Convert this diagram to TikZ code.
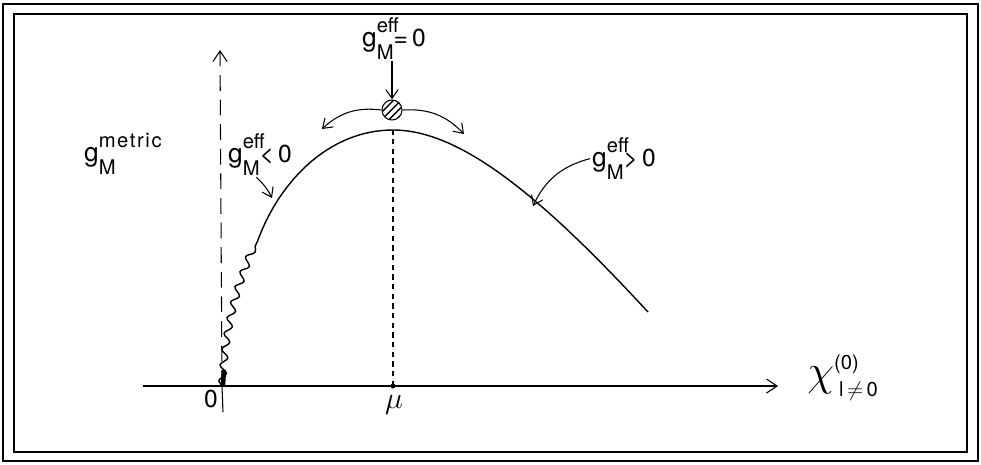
\documentclass[tikz,border=0pt]{standalone}
\usepackage{amsmath}
\usepackage{fontspec}
\setmainfont{TeX Gyre Heros}
\usetikzlibrary{positioning, arrows.meta, decorations.pathmorphing, patterns.meta}
\newcommand{\lblsmall}{\fontsize{11.5}{13}\selectfont}
\newcommand{\gsym}[2]{g\rlap{\raisebox{7.5pt}{\lblsmall #1}}\raisebox{-7.5pt}{\lblsmall M}{\fontsize{14}{16}\selectfont #2}}

\begin{document}
\begin{tikzpicture}[
    x=0.02cm, y=-0.02cm,
    arrow/.style={-{Straight Barb[length=5pt,width=7pt]}, semithick},
    axis/.style={semithick},
    curve/.style={line width=0.8pt},
    lbl/.style={font=\fontsize{15}{17}\selectfont, inner sep=1pt, anchor=base west},
    frame/.style={line width=1.3pt}
  ]
    \useasboundingbox (0,0) rectangle (981,464);
    \draw[frame] (3,4) rectangle (978,461);
    \draw[frame] (14,14) rectangle (967,452);

    % axes
    \coordinate (origin) at (222,386);
    \coordinate (xstart) at (143,386);
    \coordinate (xend) at (778,386);
    \coordinate (ytop) at (220,50);
    \coordinate (ybot) at (223,412);
    \coordinate (mutick) at (393,386);

    \draw[axis, -{Straight Barb[length=6pt,width=8pt]}] (xstart) -- (xend);
    \draw[axis, dash pattern=on 9pt off 5pt, -{Straight Barb[length=6pt,width=8pt]}] (origin) -- (ytop);
    \draw[axis] (ybot) -- (origin);
    \fill (mutick) circle (2.5);

    \node[font=\fontsize{14}{16}\selectfont] (zero) at (211,399) {0};
    \node[font=\fontsize{17}{19}\selectfont] (mu) at (394,405) {$\mu$};
    \node[font=\fontsize{24}{26}\selectfont] (chi) at (843,378)
          {$\chi^{\text{\lblsmall(0)}}_{\,\text{\lblsmall l\,$\neq$\,0}}$};

    % curve
    \coordinate (wig) at (258,240);
    \coordinate (peak) at (393,130);
    \coordinate (tail) at (648,312);
    \draw[curve, decorate, decoration={snake, segment length=9pt, amplitude=2pt}]
          (origin) .. controls (226,320) and (240,280) .. (wig);
    \draw[line width=2.5pt] (223,386) -- (224,370);
    \draw[curve] (wig) .. controls (280,180) and (330,130) .. (peak)
          .. controls (460,130) and (540,195) .. (tail);
    \draw[semithick, dash pattern=on 3pt off 2.5pt] (mutick) -- (peak);

    % ball at the top
    \node[circle, draw, semithick, minimum size=0.4cm, inner sep=0pt,
          pattern={Lines[angle=45, distance=3pt, line width=0.8pt]}] (ball) at (392,110) {};
    \node[lbl] (lzero) at (360,46) {\gsym{eff}{=\,0}};
    \draw[arrow] (ball.north |- lzero.south) -- (ball.north);

    \coordinate (lefttip) at (322,129);
    \coordinate (righttip) at (464,134);
    \draw[arrow] (ball.west) to[bend right=25] (lefttip);
    \draw[arrow] (ball.east) to[bend left=25] (righttip);

    % labels
    \node[lbl] (lmetric) at (82,161) {\gsym{\addfontfeature{LetterSpace=8}metric}{}};
    \node[lbl] (lneg) at (226,162) {\gsym{eff}{<\,0}};
    \node[lbl] (lpos) at (590,166) {\gsym{eff}{>\,0}};

    \coordinate (negtip) at (272,198);
    \coordinate (postip) at (533,206);
    \draw[arrow] ([xshift=-2pt]lneg.south) to[bend left=10] (negtip);
    \draw[arrow] (lpos.west) to[bend right=25] (postip);
\end{tikzpicture}
\end{document}
